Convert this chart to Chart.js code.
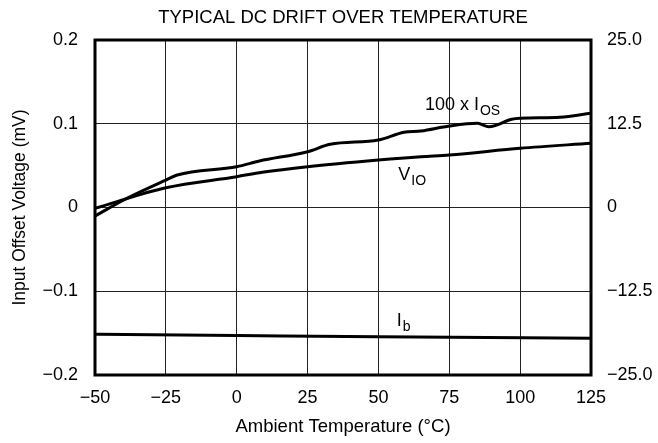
<!DOCTYPE html>
<html>
<head>
<meta charset="utf-8">
<title>Typical DC Drift Over Temperature</title>
<script src="https://cdn.jsdelivr.net/npm/chart.js@4.4.1/dist/chart.umd.min.js"></script>
<style>
  html, body { margin: 0; padding: 0; background: #fff; }
  #wrap { width: 658px; height: 443px; position: relative; }
</style>
</head>
<body>
<div id="wrap"><canvas id="chart"></canvas></div>
<script>
// ─── Data ─────────────────────────────────────────────────────
const xTicks          = [-50, -25, 0, 25, 50, 75, 100, 125];
const xTickLabels     = ["−50", "−25", "0", "25", "50", "75", "100", "125"];
const leftTicks       = [-0.2, -0.1, 0, 0.1, 0.2];
const leftTickLabels  = ["−0.2", "−0.1", "0", "0.1", "0.2"];
const rightTicks      = [-25, -12.5, 0, 12.5, 25];
const rightTickLabels = ["−25.0", "−12.5", "0", "12.5", "25.0"];

// V_IO (mV, left axis)
const vioTemp = [-50, -25, 0, 9, 25, 50, 65, 75, 100, 125];
const vioVal  = [-0.001, 0.0236, 0.0368, 0.042, 0.0487, 0.0567, 0.0607, 0.0627, 0.0707, 0.0767];

// 100 x I_OS (right axis)
const iosTemp = [-50, -38, -25, -21, 0, 8, 25, 33, 50, 59, 65, 75, 85, 89, 97, 100, 114, 125];
const iosVal  = [-1.26, 1.53, 4.10, 4.85, 6.09, 6.94, 8.33, 9.43, 10.07, 11.22, 11.42, 12.16, 12.56, 12.06, 13.16, 13.31, 13.46, 14.06];

// I_b (right axis)
const ibTemp = [-50, 0, 50, 125];
const ibVal  = [-18.9, -19.1, -19.3, -19.5];

// ─── Curve labels (left-axis units) ───────────────────────────
const curveLabels = [
  { x: 66.4, y: 0.1164,  main: "100 x I", sub: "OS" },
  { x: 57.0, y: 0.0328,  main: "V",       sub: "IO" },
  { x: 56.5, y: -0.1415, main: "I",       sub: "b" },
];

const FONT = "'Liberation Sans', Arial, Helvetica, sans-serif";
const pts = (xs, ys) => xs.map((x, i) => ({ x, y: ys[i] }));
const setTicks = arr => s => { s.ticks = arr.map(v => ({ value: v })); };

const frameAndLabels = {
  id: "frameAndLabels",
  afterDraw(chart) {
    const { ctx, chartArea: a, scales } = chart;
    ctx.save();
    ctx.strokeStyle = "#000";
    ctx.lineWidth = 3;
    ctx.strokeRect(a.left, a.top, a.right - a.left, a.bottom - a.top);

    ctx.fillStyle = "#000";
    ctx.textBaseline = "alphabetic";
    ctx.textAlign = "left";
    curveLabels.forEach(l => {
      const px = scales.x.getPixelForValue(l.x);
      const py = scales.y.getPixelForValue(l.y);
      ctx.font = "18px " + FONT;
      ctx.fillText(l.main, px, py);
      const w = ctx.measureText(l.main).width;
      ctx.font = "14px " + FONT;
      ctx.fillText(l.sub, px + w + 1, py + 5);
    });
    ctx.restore();
  }
};

const lineStyle = {
  borderColor: "#000", borderWidth: 3, pointRadius: 0,
  fill: false, cubicInterpolationMode: "monotone"
};

new Chart(document.getElementById("chart"), {
  type: "line",
  data: {
    datasets: [
      { label: "VIO",       data: pts(vioTemp, vioVal), yAxisID: "y",  ...lineStyle },
      { label: "100 x IOS", data: pts(iosTemp, iosVal), yAxisID: "y2", ...lineStyle },
      { label: "Ib",        data: pts(ibTemp, ibVal),   yAxisID: "y2", ...lineStyle },
    ]
  },
  options: {
    responsive: true, maintainAspectRatio: false, animation: false,
    devicePixelRatio: 1,
    layout: { padding: 0 },
    plugins: {
      legend: { display: false },
      tooltip: { enabled: false },
      title: {
        display: true, fullSize: false,
        text: "TYPICAL DC DRIFT OVER TEMPERATURE",
        color: "#000",
        font: { family: FONT, size: 18.5, weight: "normal" },
        padding: { top: 6.5, bottom: 11.3 }
      }
    },
    scales: {
      x: {
        type: "linear", min: -50, max: 125,
        afterBuildTicks: setTicks(xTicks),
        afterFit: s => { s.height = 68; },
        border: { display: false },
        grid: { color: "#222", lineWidth: 1, drawTicks: false },
        ticks: {
          autoSkip: false, maxRotation: 0, padding: 12, color: "#000",
          font: { family: FONT, size: 18 },
          callback: (v, i) => xTickLabels[i]
        },
        title: {
          display: true, text: "Ambient Temperature (°C)", color: "#000",
          font: { family: FONT, size: 18.5 },
          padding: { top: 0, bottom: 5.3 }
        }
      },
      y: {
        position: "left", min: -0.2, max: 0.2,
        afterBuildTicks: setTicks(leftTicks),
        afterFit: s => { s.width = 95; },
        border: { display: false },
        grid: { color: "#222", lineWidth: 1, drawTicks: false },
        ticks: {
          autoSkip: false, padding: 17, color: "#000",
          font: { family: FONT, size: 18 },
          callback: (v, i) => leftTickLabels[i]
        },
        title: {
          display: true, text: "Input Offset Voltage (mV)", color: "#000",
          font: { family: FONT, size: 17.5 },
          padding: { top: 9.5, bottom: 0 }
        }
      },
      y2: {
        position: "right", min: -25, max: 25,
        afterBuildTicks: setTicks(rightTicks),
        afterFit: s => { s.width = 67; },
        border: { display: false },
        grid: { display: false, drawTicks: false },
        ticks: {
          autoSkip: false, padding: 16, color: "#000",
          font: { family: FONT, size: 18 },
          callback: (v, i) => rightTickLabels[i]
        }
      }
    }
  },
  plugins: [frameAndLabels]
});
</script>
</body>
</html>
